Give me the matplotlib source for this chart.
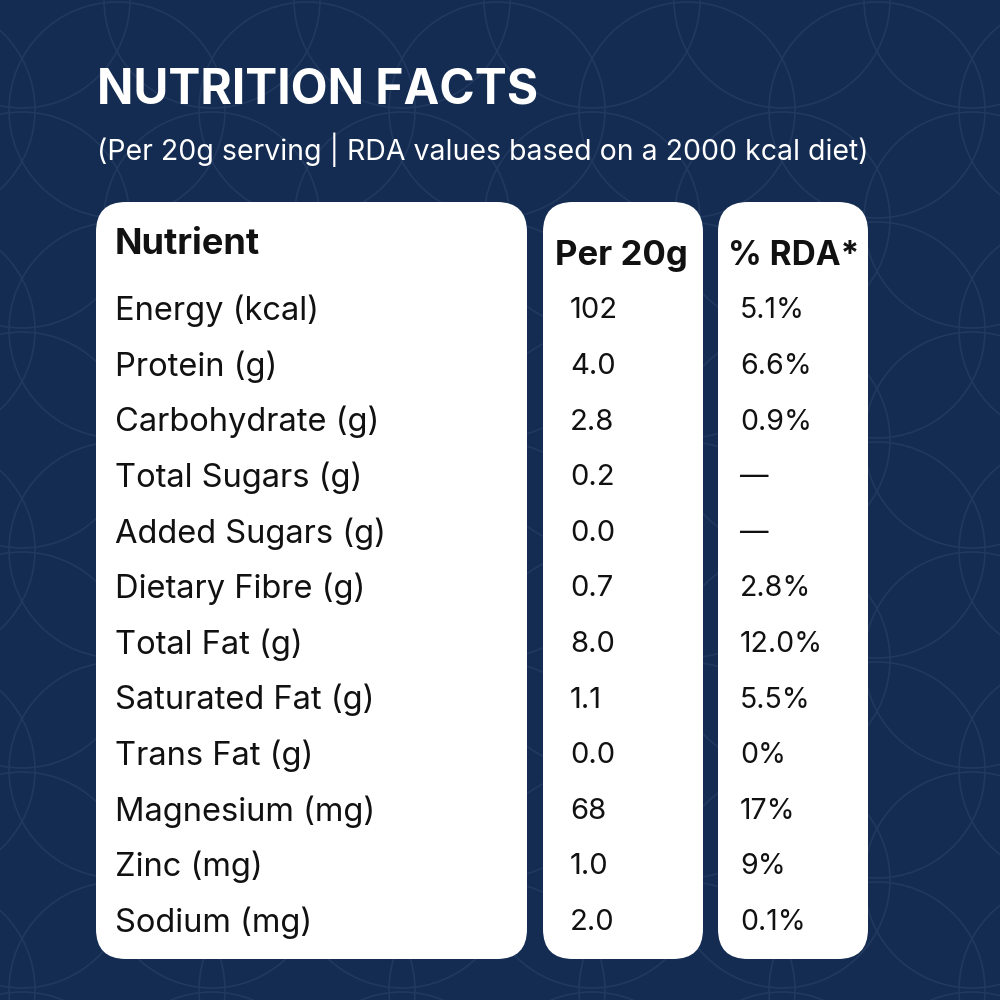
import matplotlib
matplotlib.use("Agg")
import matplotlib.pyplot as plt
from matplotlib.patches import FancyBboxPatch, Circle

nutrients = ["Energy (kcal)", "Protein (g)", "Carbohydrate (g)", "Total Sugars (g)",
             "Added Sugars (g)", "Dietary Fibre (g)", "Total Fat (g)", "Saturated Fat (g)",
             "Trans Fat (g)", "Magnesium (mg)", "Zinc (mg)", "Sodium (mg)"]
per_20g = ["102", "4.0", "2.8", "0.2", "0.0", "0.7", "8.0", "1.1", "0.0", "68", "1.0", "2.0"]
rda = ["5.1%", "6.6%", "0.9%", "—", "—", "2.8%", "12.0%", "5.5%", "0%", "17%", "9%", "0.1%"]

title = "NUTRITION FACTS"
subtitle = "(Per 20g serving | RDA values based on a 2000 kcal diet)"
headers = ["Nutrient", "Per 20g", "% RDA*"]

bg = "#142c52"
line_col = "#21395f"
ink = "#111111"
font = ["Inter", "DejaVu Sans"]

fig = plt.figure(figsize=(10, 10), dpi=100)
fig.patch.set_facecolor(bg)
ax = fig.add_axes([0, 0, 1, 1])
ax.set_xlim(0, 1000)
ax.set_ylim(1000, 0)
ax.axis("off")
ax.set_facecolor(bg)

# faint circle pattern in the background
r = 108
for j in range(-1, 7):
    for i in range(-1, 7):
        ax.add_patch(Circle((22 + 190 * i, 0 + 220 * j), r, fill=False,
                            ec=line_col, lw=1.2, zorder=0))
        ax.add_patch(Circle((117 + 190 * i, 110 + 220 * j), r, fill=False,
                            ec=line_col, lw=1.2, zorder=0))

ax.text(97, 90, title, color="white", fontsize=34.5, fontweight="bold",
        family=font, va="center", ha="left")
ax.text(97, 150, subtitle, color="white", fontsize=20.5,
        family=font, va="center", ha="left")

# cards
cards = [(96, 527), (543, 703), (718, 868)]
for x0, x1 in cards:
    ax.add_patch(FancyBboxPatch((x0, 202), x1 - x0, 757,
                                boxstyle="round,pad=0,rounding_size=30",
                                fc="white", ec="none", zorder=2))

ax.text(115, 245, headers[0], color=ink, fontsize=26, fontweight="bold",
        family=font, va="center", ha="left", zorder=3)
ax.text(555, 256, headers[1], color=ink, fontsize=25, fontweight="bold",
        family=font, va="center", ha="left", zorder=3)
ax.text(728, 256, headers[2], color=ink, fontsize=24, fontweight="bold",
        family=font, va="center", ha="left", zorder=3)

y0 = 311
step = 55.6
for k in range(len(nutrients)):
    y = y0 + step * k
    ax.text(115, y, nutrients[k], color=ink, fontsize=23.5, family=font,
            va="center", ha="left", zorder=3)
    ax.text(570, y, per_20g[k], color=ink, fontsize=21, family=font,
            va="center", ha="left", zorder=3)
    ax.text(740, y, rda[k], color=ink, fontsize=20.5, family=font,
            va="center", ha="left", zorder=3)

fig.savefig("out.png", dpi=100, facecolor=bg)
